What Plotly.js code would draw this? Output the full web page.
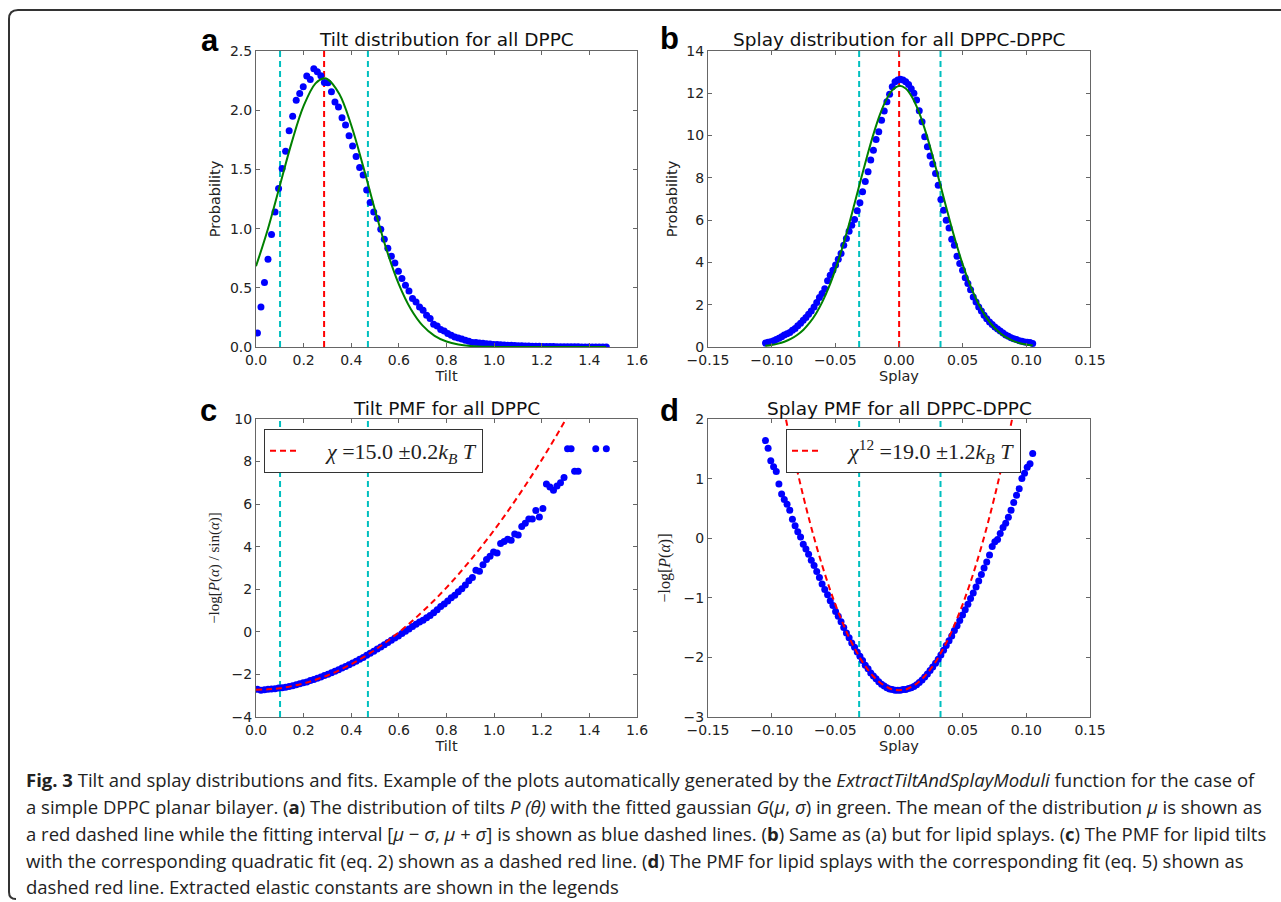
<!DOCTYPE html>
<html>
<head>
<meta charset="utf-8">
<script src="https://cdn.plot.ly/plotly-3.0.1.min.js"></script>
<style>html,body{margin:0;padding:0;background:#fff;}#chart{width:1281px;height:902px;}</style>
</head>
<body>
<div id="chart"></div>
<script>
// ---------- Panel a / c : tilt ----------
const tiltBins = [0.0060,0.0208,0.0356,0.0504,0.0652,0.0800,0.0948,0.1096,0.1244,0.1392,
0.1540,0.1688,0.1836,0.1984,0.2132,0.2280,0.2428,0.2576,0.2724,0.2872,
0.3020,0.3168,0.3316,0.3464,0.3612,0.3760,0.3908,0.4056,0.4204,0.4352,
0.4500,0.4648,0.4796,0.4944,0.5092,0.5240,0.5388,0.5536,0.5684,0.5832,
0.5980,0.6128,0.6276,0.6424,0.6572,0.6720,0.6868,0.7016,0.7164,0.7312,
0.7460,0.7608,0.7756,0.7904,0.8052,0.8200,0.8348,0.8496,0.8644,0.8792,
0.8940,0.9088,0.9236,0.9384,0.9532,0.9680,0.9828,0.9976,1.0124,1.0272,
1.0420,1.0568,1.0716,1.0864,1.1012,1.1160,1.1308,1.1456,1.1604,1.1752,
1.1900,1.2048,1.2196,1.2344,1.2492,1.2640,1.2788,1.2936,1.3084,1.3232,
1.3380,1.3528,1.3676,1.3824,1.3972,1.4120,1.4268,1.4416,1.4564,1.4712];

const tiltProb = [0.118,0.338,0.544,0.741,0.950,1.141,1.339,1.508,1.654,1.826,
1.948,2.083,2.142,2.198,2.289,2.260,2.351,2.325,2.291,2.235,
2.232,2.156,2.069,2.026,1.936,1.874,1.784,1.697,1.609,1.516,
1.452,1.325,1.220,1.141,1.085,0.995,0.910,0.834,0.767,0.710,
0.640,0.578,0.521,0.474,0.409,0.380,0.338,0.310,0.268,0.240,
0.192,0.178,0.147,0.135,0.113,0.099,0.085,0.076,0.068,0.056,
0.048,0.039,0.037,0.034,0.031,0.028,0.025,0.022,0.021,0.018,
0.016,0.015,0.014,0.012,0.011,0.010,0.009,0.008,0.007,0.006,
0.006,0.005,0.004,0.004,0.004,0.003,0.003,0.003,0.002,0.002,
0.002,0.002,0.001,0.001,0.001,0.001,0.001,0.001,0.001,0.001];

const tiltFitX = [0,0.05,0.10,0.15,0.20,0.25,0.286,0.30,0.35,0.40,0.45,0.50,0.55,0.60,0.65,0.70,0.75,0.80,0.85,0.90,0.95,1.00,1.05,1.10,1.15,1.20,1.25,1.30,1.35,1.40,1.47];
const tiltFitY = [0.682,0.997,1.362,1.728,2.036,2.227,2.270,2.263,2.137,1.873,1.526,1.155,0.811,0.529,0.321,0.180,0.094,0.046,0.021,0.0085,0.003,0.001,0,0,0,0,0,0,0,0,0];

const tiltPMF = [-2.70,-2.74,-2.72,-2.70,-2.68,-2.67,-2.64,-2.62,-2.60,-2.57,
-2.53,-2.49,-2.44,-2.39,-2.35,-2.29,-2.24,-2.18,-2.12,-2.05,
-1.99,-1.92,-1.85,-1.78,-1.70,-1.63,-1.55,-1.46,-1.38,-1.29,
-1.20,-1.10,-1.01,-0.91,-0.81,-0.71,-0.61,-0.50,-0.40,-0.29,
-0.19,-0.08,0.03,0.14,0.25,0.36,0.46,0.55,0.66,0.77,
0.90,1.04,1.19,1.31,1.45,1.60,1.72,1.88,2.03,2.20,
2.40,2.55,2.90,2.85,3.15,3.40,3.55,3.75,3.70,4.15,
4.25,4.35,4.30,4.60,4.55,4.95,5.10,5.30,5.30,5.70,
5.40,5.80,6.95,6.80,6.65,6.85,7.00,7.25,8.60,8.60,
7.55,7.55,null,null,null,null,8.60,null,null,8.60];

const tiltPMFFitX = [0,0.05,0.10,0.15,0.20,0.25,0.30,0.35,0.40,0.45,0.50,0.55,0.60,0.65,0.70,0.75,0.80,0.85,0.90,0.95,1.00,1.05,1.10,1.15,1.20,1.25,1.30,1.35];
const tiltPMFFitY = [-2.72,-2.70,-2.65,-2.55,-2.42,-2.25,-2.05,-1.80,-1.52,-1.20,-0.85,-0.45,-0.02,0.45,0.96,1.50,2.08,2.70,3.36,4.05,4.78,5.55,6.36,7.20,8.08,9.00,9.96,10.95];

const tiltMean = [0.286];
const tiltSigmaBounds = [0.101, 0.470];

// ---------- Panel b / d : splay ----------
const splayBins = [-0.1049,-0.1028,-0.1007,-0.0985,-0.0964,-0.0943,-0.0922,-0.0901,-0.0879,-0.0858,
-0.0837,-0.0816,-0.0795,-0.0773,-0.0752,-0.0731,-0.0710,-0.0689,-0.0667,-0.0646,
-0.0625,-0.0604,-0.0583,-0.0561,-0.0540,-0.0519,-0.0498,-0.0477,-0.0455,-0.0434,
-0.0413,-0.0392,-0.0371,-0.0349,-0.0328,-0.0307,-0.0286,-0.0265,-0.0243,-0.0222,
-0.0201,-0.0180,-0.0159,-0.0137,-0.0116,-0.0095,-0.0074,-0.0053,-0.0031,-0.0010,
0.0011,0.0032,0.0053,0.0075,0.0096,0.0117,0.0138,0.0159,0.0181,0.0202,
0.0223,0.0244,0.0265,0.0287,0.0308,0.0329,0.0350,0.0371,0.0393,0.0414,
0.0435,0.0456,0.0477,0.0499,0.0520,0.0541,0.0562,0.0583,0.0605,0.0626,
0.0647,0.0668,0.0689,0.0711,0.0732,0.0753,0.0774,0.0795,0.0817,0.0838,
0.0859,0.0880,0.0901,0.0923,0.0944,0.0965,0.0986,0.1007,0.1029,0.1050];

const splayProb = [0.19,0.22,0.25,0.30,0.35,0.41,0.49,0.57,0.63,0.69,
0.79,0.88,1.01,1.12,1.26,1.39,1.55,1.70,1.89,2.10,
2.34,2.53,2.76,3.13,3.39,3.63,3.88,4.15,4.42,4.81,
5.13,5.48,5.76,6.03,6.44,6.82,7.34,7.83,8.29,8.84,
9.31,9.82,10.18,10.73,11.16,11.60,11.95,12.31,12.55,12.63,
12.66,12.63,12.55,12.42,12.22,12.00,11.68,11.17,10.65,9.94,
9.47,9.03,8.65,8.21,7.65,6.98,6.47,6.00,5.63,5.10,
4.81,4.29,3.95,3.63,3.28,3.00,2.71,2.37,2.13,1.89,
1.70,1.50,1.34,1.18,1.07,0.95,0.85,0.76,0.66,0.57,
0.51,0.44,0.39,0.35,0.30,0.27,0.24,0.22,0.21,0.17];

const splayFitX = [-0.105,-0.100,-0.095,-0.090,-0.085,-0.080,-0.075,-0.070,-0.065,-0.060,-0.055,-0.050,-0.045,-0.040,-0.035,-0.030,-0.025,-0.020,-0.015,-0.010,-0.005,0,
0.005,0.010,0.015,0.020,0.025,0.030,0.035,0.040,0.045,0.050,0.055,0.060,0.065,0.070,0.075,0.080,0.085,0.090,0.095,0.100,0.105];
const splayFitY = [0.06,0.10,0.16,0.25,0.38,0.57,0.82,1.16,1.60,2.16,2.84,3.66,4.60,5.64,6.76,7.91,9.03,10.08,10.99,11.70,12.16,12.35,
12.24,11.85,11.21,10.35,9.34,8.23,7.08,5.95,4.88,3.91,3.06,2.34,1.75,1.27,0.91,0.63,0.43,0.28,0.18,0.12,0.07];

const splayPMF = [1.64,1.51,1.30,1.20,1.12,0.91,0.74,0.65,0.57,0.47,
0.32,0.21,0.11,0.02,-0.10,-0.18,-0.27,-0.37,-0.46,-0.56,
-0.66,-0.77,-0.86,-0.95,-1.05,-1.13,-1.23,-1.31,-1.40,-1.50,
-1.59,-1.67,-1.76,-1.83,-1.91,-1.98,-2.05,-2.13,-2.19,-2.26,
-2.31,-2.36,-2.41,-2.45,-2.48,-2.51,-2.53,-2.54,-2.55,-2.55,
-2.55,-2.54,-2.54,-2.52,-2.51,-2.49,-2.46,-2.42,-2.38,-2.33,
-2.28,-2.22,-2.16,-2.10,-2.03,-1.96,-1.88,-1.80,-1.72,-1.64,
-1.55,-1.47,-1.38,-1.29,-1.20,-1.11,-1.01,-0.92,-0.82,-0.72,
-0.61,-0.50,-0.40,-0.28,-0.14,-0.06,-0.02,0.08,0.18,0.25,
0.35,0.47,0.60,0.72,0.83,1.00,1.09,1.19,1.25,1.42];

const splayPMFFitX = splayFitX;
const splayPMFFitY = [3.80,3.21,2.65,2.12,1.61,1.14,0.69,0.27,-0.12,-0.48,-0.81,-1.11,-1.38,-1.63,-1.84,-2.03,-2.19,-2.32,-2.42,-2.49,-2.54,-2.55,
-2.54,-2.49,-2.42,-2.32,-2.19,-2.03,-1.84,-1.63,-1.38,-1.11,-0.81,-0.48,-0.12,0.27,0.69,1.14,1.61,2.12,2.65,3.21,3.80];

const splayMean = [0.0001];
const splaySigmaBounds = [-0.0313, 0.0326];

// ---------- text ----------
const panelTitles = ['Tilt distribution for all DPPC', 'Splay distribution for all DPPC-DPPC', 'Tilt PMF for all DPPC', 'Splay PMF for all DPPC-DPPC'];
const panelLetters = ['a', 'b', 'c', 'd'];
const tiltLegend = '\u2002\u2002<i>χ</i> =15.0 ±0.2<i>k</i><sub><i>B</i></sub> <i>T</i>';
const splayLegend = '\u2002\u2002<i>χ</i><sup>12</sup> =19.0 ±1.2<i>k</i><sub><i>B</i></sub> <i>T</i>';
const captionLines = [
  '<b>Fig. 3</b> Tilt and splay distributions and fits. Example of the plots automatically generated by the <i>ExtractTiltAndSplayModuli</i> function for the case of',
  'a simple DPPC planar bilayer. (<b>a</b>) The distribution of tilts <i>P (θ)</i> with the fitted gaussian <i>G</i>(<i>μ</i>, <i>σ</i>) in green. The mean of the distribution <i>μ</i> is shown as',
  'a red dashed line while the fitting interval [<i>μ</i> − <i>σ</i>, <i>μ</i> + <i>σ</i>] is shown as blue dashed lines. (<b>b</b>) Same as (a) but for lipid splays. (<b>c</b>) The PMF for lipid tilts',
  'with the corresponding quadratic fit (eq. 2) shown as a dashed red line. (<b>d</b>) The PMF for lipid splays with the corresponding fit (eq. 5) shown as',
  'dashed red line. Extracted elastic constants are shown in the legends'
];

// ---------- geometry ----------
const W = 1281, H = 902;
const px = v => v / W;
const py = v => 1 - v / H;

const BLUE = '#0000ff', GREEN = '#008000', RED = '#ff0000', CYAN = '#00bfbf';
const dots = (x, y, xa, ya) => ({x, y, xaxis: xa, yaxis: ya, type: 'scatter', mode: 'markers',
  marker: {color: BLUE, size: 7, line: {width: 0}}, showlegend: false, hoverinfo: 'x+y'});

const traces = [
  dots(tiltBins, tiltProb, 'x', 'y'),
  {x: tiltFitX, y: tiltFitY, xaxis: 'x', yaxis: 'y', type: 'scatter', mode: 'lines',
   line: {color: GREEN, width: 2, shape: 'spline'}, showlegend: false},
  dots(splayBins, splayProb, 'x2', 'y2'),
  {x: splayFitX, y: splayFitY, xaxis: 'x2', yaxis: 'y2', type: 'scatter', mode: 'lines',
   line: {color: GREEN, width: 2, shape: 'spline'}, showlegend: false},
  dots(tiltBins, tiltPMF, 'x3', 'y3'),
  {x: tiltPMFFitX, y: tiltPMFFitY, xaxis: 'x3', yaxis: 'y3', type: 'scatter', mode: 'lines',
   line: {color: RED, width: 2, dash: '6px,4px', shape: 'spline'}, name: tiltLegend, legend: 'legend', showlegend: true},
  dots(splayBins, splayPMF, 'x4', 'y4'),
  {x: splayPMFFitX, y: splayPMFFitY, xaxis: 'x4', yaxis: 'y4', type: 'scatter', mode: 'lines',
   line: {color: RED, width: 2, dash: '6px,4px', shape: 'spline'}, name: splayLegend, legend: 'legend2', showlegend: true}
];

const vline = (x, xref, yref, color) => ({type: 'line', xref: xref, yref: yref + ' domain', x0: x, x1: x, y0: 0, y1: 1,
  line: {color: color, width: 2, dash: '6px,4px'}, layer: 'below'});

const shapes = [];
tiltSigmaBounds.forEach(v => shapes.push(vline(v, 'x', 'y', CYAN)));
tiltMean.forEach(v => shapes.push(vline(v, 'x', 'y', RED)));
splaySigmaBounds.forEach(v => shapes.push(vline(v, 'x2', 'y2', CYAN)));
splayMean.forEach(v => shapes.push(vline(v, 'x2', 'y2', RED)));
tiltSigmaBounds.forEach(v => shapes.push(vline(v, 'x3', 'y3', CYAN)));
splaySigmaBounds.forEach(v => shapes.push(vline(v, 'x4', 'y4', CYAN)));
// outer rounded frame
shapes.push({type: 'path', xref: 'paper', yref: 'paper',
  path: `M 1,${py(10)} L ${px(18)},${py(10)} Q ${px(9)},${py(10)} ${px(9)},${py(19)} L ${px(9)},${py(892)} Q ${px(9)},${py(899)} ${px(16)},${py(899)}`,
  line: {color: '#333', width: 2}});

const tickFont = {family: 'DejaVu Sans, sans-serif', size: 14, color: '#222'};
const axBase = {showline: true, mirror: 'ticks', linecolor: '#666', linewidth: 1, ticks: 'inside', ticklen: 4,
  tickcolor: '#666', showgrid: false, zeroline: false, tickfont: tickFont, fixedrange: true};

const xDomL = [px(256), px(637)], xDomR = [px(708), px(1090)];
const yDomT = [py(347), py(51)], yDomB = [py(717), py(419)];
const labFont = {family: 'DejaVu Sans, sans-serif', size: 14.5, color: '#222'};
const xTitle = t => ({text: t, font: labFont, standoff: 2});

const layout = {
  width: W, height: H, margin: {l: 0, r: 0, t: 0, b: 0}, paper_bgcolor: '#fff', plot_bgcolor: '#fff',
  font: {family: 'DejaVu Sans, sans-serif', color: '#222'},
  xaxis: Object.assign({}, axBase, {domain: xDomL, range: [0, 1.6], tickvals: [0,0.2,0.4,0.6,0.8,1.0,1.2,1.4,1.6], tickformat: '.1f', anchor: 'y', title: xTitle('Tilt')}),
  yaxis: Object.assign({}, axBase, {domain: yDomT, range: [0, 2.5], tickvals: [0,0.5,1.0,1.5,2.0,2.5], tickformat: '.1f', anchor: 'x',
    title: {text: 'Probability', font: labFont, standoff: 5}}),
  xaxis2: Object.assign({}, axBase, {domain: xDomR, range: [-0.15, 0.15], tickvals: [-0.15,-0.10,-0.05,0,0.05,0.10,0.15], tickformat: '.2f', anchor: 'y2', title: xTitle('Splay')}),
  yaxis2: Object.assign({}, axBase, {domain: yDomT, range: [0, 14], tickvals: [0,2,4,6,8,10,12,14], anchor: 'x2',
    title: {text: 'Probability', font: labFont, standoff: 5}}),
  xaxis3: Object.assign({}, axBase, {domain: xDomL, range: [0, 1.6], tickvals: [0,0.2,0.4,0.6,0.8,1.0,1.2,1.4,1.6], tickformat: '.1f', anchor: 'y3', title: xTitle('Tilt')}),
  yaxis3: Object.assign({}, axBase, {domain: yDomB, range: [-4, 10], tickvals: [-4,-2,0,2,4,6,8,10], anchor: 'x3',
    title: {text: '−log[<i>P</i>(<i>α</i>) / sin(<i>α</i>)]', font: {family: 'Liberation Serif, serif', size: 15, color: '#222'}, standoff: 8}}),
  xaxis4: Object.assign({}, axBase, {domain: xDomR, range: [-0.15, 0.15], tickvals: [-0.15,-0.10,-0.05,0,0.05,0.10,0.15], tickformat: '.2f', anchor: 'y4', title: xTitle('Splay')}),
  yaxis4: Object.assign({}, axBase, {domain: yDomB, range: [-3, 2], tickvals: [-3,-2,-1,0,1,2], anchor: 'x4',
    title: {text: '−log[<i>P</i>(<i>α</i>)]', font: {family: 'Liberation Serif, serif', size: 16, color: '#222'}, standoff: 8}}),
  legend: {x: px(264), y: py(429), xanchor: 'left', yanchor: 'top', bgcolor: '#fff', bordercolor: '#333', borderwidth: 1,
    font: {family: 'Liberation Serif, serif', size: 22, color: '#222'}, itemwidth: 30},
  legend2: {x: px(786), y: py(429), xanchor: 'left', yanchor: 'top', bgcolor: '#fff', bordercolor: '#333', borderwidth: 1,
    font: {family: 'Liberation Serif, serif', size: 22, color: '#222'}, itemwidth: 30},
  shapes: shapes,
  annotations: []
};

const titleCenters = [[446.5, 40], [899, 40], [446.5, 408], [899, 409]];
panelTitles.forEach((t, i) => layout.annotations.push({text: t, xref: 'paper', yref: 'paper', x: px(titleCenters[i][0]), y: py(titleCenters[i][1]),
  xanchor: 'center', yanchor: 'middle', showarrow: false, font: {family: 'DejaVu Sans, sans-serif', size: 18.5, color: '#111'}}));
const letterPos = [[210, 41], [669, 39], [209, 410], [669, 410]];
panelLetters.forEach((t, i) => layout.annotations.push({text: '<b>' + t + '</b>', xref: 'paper', yref: 'paper', x: px(letterPos[i][0]), y: py(letterPos[i][1]),
  xanchor: 'center', yanchor: 'middle', showarrow: false, font: {family: 'Liberation Sans, Arial, sans-serif', size: 31, color: '#000'}}));
const captionY = [779, 806, 833, 860, 886];
captionLines.forEach((t, i) => layout.annotations.push({text: t, xref: 'paper', yref: 'paper', x: px(24), y: py(captionY[i]),
  xanchor: 'left', yanchor: 'middle', showarrow: false, align: 'left',
  font: {family: 'Open Sans, sans-serif', size: 18.5, color: '#222'}}));

Plotly.newPlot('chart', traces, layout, {staticPlot: true});
</script>
</body>
</html>
